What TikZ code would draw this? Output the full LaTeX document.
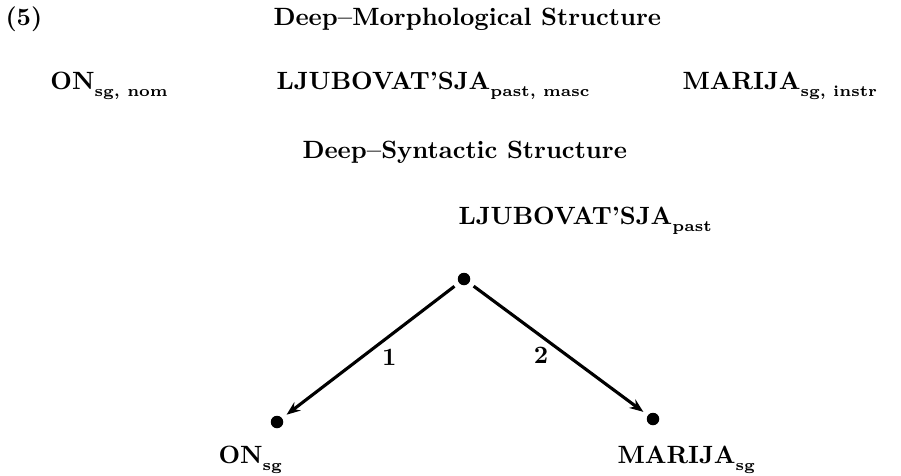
\documentclass[tikz,border=0pt]{standalone}
\usetikzlibrary{arrows.meta}
\newcommand{\gram}[1]{\raisebox{-2.8pt}{\fontsize{6.2}{7}\selectfont\bfseries #1}}
\tikzset{
  word/.style={anchor=base west, inner sep=0pt, font=\bfseries},
  dotnode/.style={circle, fill, inner sep=0pt, minimum size=5pt, outer sep=2.3pt},
  dsarc/.style={line width=1.25pt, -{Stealth[length=5.5pt,width=4.2pt]}},
  arclabel/.style={inner sep=0pt, outer sep=0pt, font=\bfseries}
}
\begin{document}
\begin{tikzpicture}[x=0.4pt,y=-0.4pt]
    \useasboundingbox (0,0) rectangle (901,475);
    % deep-morphological level
    \node[word] (exnum) at (5,25) {(5)};
    \node[word] (dmtitle) at (273,25) {Deep--Morphological Structure};
    \node[word] (dmon) at (50,89) {ON\gram{sg, nom}};
    \node[word] (dmljub) at (276,89) {LJUBOVAT'SJA\gram{past, masc}};
    \node[word] (dmmar) at (682,89) {MARIJA\gram{sg, instr}};
    % deep-syntactic level
    \node[word] (dstitle) at (302,158) {Deep--Syntactic Structure};
    \node[word] (dsljub) at (458,224) {LJUBOVAT'SJA\gram{past}};
    \node[dotnode] (dstop) at (464,279) {};
    \node[dotnode] (dsleft) at (277,422) {};
    \node[dotnode] (dsright) at (653,419) {};
    \node[word] (dson) at (218,463) {ON\gram{sg}};
    \node[word] (dsmar) at (617,463) {MARIJA\gram{sg}};
    \draw[dsarc] (dstop) -- node[arclabel, pos=0.55, right=8pt] (rel1) {1} (dsleft);
    \draw[dsarc] (dstop) -- node[arclabel, pos=0.55, left=7.5pt] (rel2) {2} (dsright);
\end{tikzpicture}
\end{document}
